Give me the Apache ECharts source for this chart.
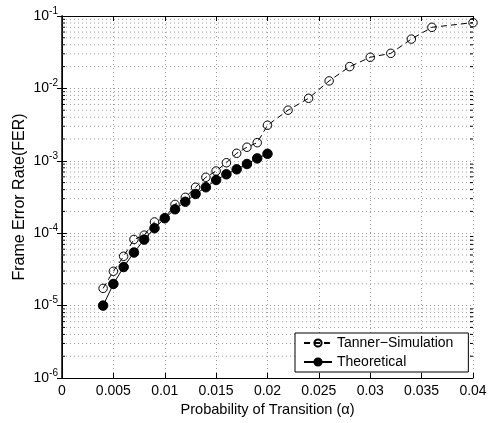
<!DOCTYPE html>
<html>
<head>
<meta charset="utf-8">
<script src="https://cdn.jsdelivr.net/npm/echarts@6/dist/echarts.min.js"></script>
<style>
html,body{margin:0;padding:0;background:#fff;}
#chart{width:491px;height:423px;}
</style>
</head>
<body>
<div id="chart"></div>
<script>
// ---- data ----
var tannerX = [0.004,0.005,0.006,0.007,0.008,0.009,0.010,0.011,0.012,0.013,0.014,0.015,0.016,0.017,0.018,0.019,0.020,0.022,0.024,0.026,0.028,0.030,0.032,0.034,0.036,0.040];
var tannerY = [1.73e-5,2.98e-5,4.8e-5,8.2e-5,9.4e-5,1.43e-4,1.62e-4,2.5e-4,3.13e-4,4.31e-4,5.92e-4,7.23e-4,9.4e-4,1.27e-3,1.54e-3,1.78e-3,3.1e-3,5.0e-3,7.3e-3,1.27e-2,2.0e-2,2.69e-2,3.05e-2,4.8e-2,6.98e-2,8.1e-2];
var theoX = [0.004,0.005,0.006,0.007,0.008,0.009,0.010,0.011,0.012,0.013,0.014,0.015,0.016,0.017,0.018,0.019,0.020];
var theoY = [1.0e-5,1.99e-5,3.41e-5,5.41e-5,8.16e-5,1.17e-4,1.61e-4,2.14e-4,2.72e-4,3.48e-4,4.31e-4,5.43e-4,6.51e-4,7.63e-4,9.03e-4,1.08e-3,1.25e-3];
var seriesNames = ['Tanner\u2212Simulation','Theoretical'];
var xTicks = [0,0.005,0.01,0.015,0.02,0.025,0.03,0.035,0.04];
var yDecades = [1e-6,1e-5,1e-4,1e-3,1e-2,1e-1];
var minorMult = [2,3,4,5,6,7,8,9];

var minorVals = [];
for (var d = 0; d < yDecades.length - 1; d++) {
  for (var m = 0; m < minorMult.length; m++) minorVals.push([yDecades[d] * minorMult[m]]);
}
function pairs(xs, ys){ return xs.map(function(x,i){ return [x, ys[i]]; }); }

var FONT = "'Liberation Sans', Arial, Helvetica, sans-serif";
var xMin = xTicks[0], xMax = xTicks[xTicks.length-1];
var gridDot = {color:'#9a9a9a', width:1, type:[1,3]};

var chart = echarts.init(document.getElementById('chart'), null, {renderer:'canvas'});
var option = {
  backgroundColor:'#fff',
  animation:false,
  textStyle:{fontFamily:FONT},
  grid:{left:62, top:16, right:18, bottom:45, containLabel:false},
  xAxis:[{
    type:'value', min:xMin, max:xMax, interval:0.005, position:'bottom',
    axisLine:{show:true, lineStyle:{color:'#000', width:1}},
    axisTick:{show:true, inside:true, length:5, lineStyle:{color:'#000'}},
    axisLabel:{color:'#000', fontSize:14, margin:6, fontFamily:FONT},
    splitLine:{show:true, lineStyle:gridDot},
    name:'Probability of Transition (\u03b1)', nameLocation:'middle', nameGap:24, nameMoveOverlap:false,
    nameTextStyle:{color:'#000', fontSize:14.6, fontFamily:FONT}
  },{
    type:'value', min:xMin, max:xMax, interval:0.005, position:'top',
    axisLine:{show:true, lineStyle:{color:'#000', width:1}},
    axisTick:{show:true, inside:true, length:5, lineStyle:{color:'#000'}},
    axisLabel:{show:false}, splitLine:{show:false}
  }],
  yAxis:[{
    type:'log', logBase:10, min:1e-6, max:1e-1, interval:1, position:'left',
    axisLine:{show:true, lineStyle:{color:'#000', width:1}},
    axisTick:{show:true, inside:true, length:5, lineStyle:{color:'#000'}},
    axisLabel:{color:'#000', margin:4, fontFamily:FONT,
      formatter:function(v){ var e = Math.round(Math.log10(v)); return '{b|10}{s|' + e + '}'; },
      rich:{b:{fontSize:14, fontFamily:FONT, color:'#000'}, s:{fontSize:10, fontFamily:FONT, color:'#000', padding:[0,0,10,0]}}
    },
    splitLine:{show:true, lineStyle:gridDot},
    name:'Frame Error Rate(FER)', nameLocation:'middle', nameGap:34, nameMoveOverlap:false,
    nameTextStyle:{color:'#000', fontSize:16, fontFamily:FONT}
  },{
    type:'log', logBase:10, min:1e-6, max:1e-1, interval:1, position:'right',
    axisLine:{show:true, lineStyle:{color:'#000', width:1.5}},
    axisTick:{show:true, inside:true, length:5, lineStyle:{color:'#000'}},
    axisLabel:{show:false}, splitLine:{show:false}
  }],
  legend:{
    data:seriesNames, orient:'vertical', left:295, top:333,
    backgroundColor:'#fff', borderColor:'#000', borderWidth:1,
    padding:[3,15,3,8], itemGap:5, itemWidth:28, itemHeight:9,
    textStyle:{color:'#000', fontSize:14, fontFamily:FONT, lineHeight:14}
  },
  series:[{
    type:'custom', name:'minorGrid', silent:true, z:1,
    xAxisIndex:0, yAxisIndex:0,
    encode:{y:0},
    data:minorVals,
    renderItem:function(params, api){
      var v = api.value(0);
      var p1 = api.coord([xMin, v]), p2 = api.coord([xMax, v]);
      return {type:'group', children:[
        {type:'line', shape:{x1:p1[0], y1:p1[1], x2:p2[0], y2:p2[1]}, style:{stroke:'#9a9a9a', lineWidth:1, lineDash:[1,3]}},
        {type:'line', shape:{x1:p1[0], y1:p1[1], x2:p1[0]+3, y2:p1[1]}, style:{stroke:'#000', lineWidth:1}},
        {type:'line', shape:{x1:p2[0], y1:p2[1], x2:p2[0]-3, y2:p2[1]}, style:{stroke:'#000', lineWidth:1}}
      ]};
    }
  },{
    name:seriesNames[0], type:'line', data:pairs(tannerX, tannerY), z:3,
    symbol:'circle', symbolSize:8.5,
    lineStyle:{color:'#000', width:1, type:[6,4]},
    itemStyle:{color:'rgba(255,255,255,0)', borderColor:'#000', borderWidth:1}
  },{
    name:seriesNames[1], type:'line', data:pairs(theoX, theoY), z:4,
    symbol:'circle', symbolSize:9.5,
    lineStyle:{color:'#000', width:1},
    itemStyle:{color:'#000', borderColor:'#000', borderWidth:1}
  }]
};
chart.setOption(option);
</script>
</body>
</html>
